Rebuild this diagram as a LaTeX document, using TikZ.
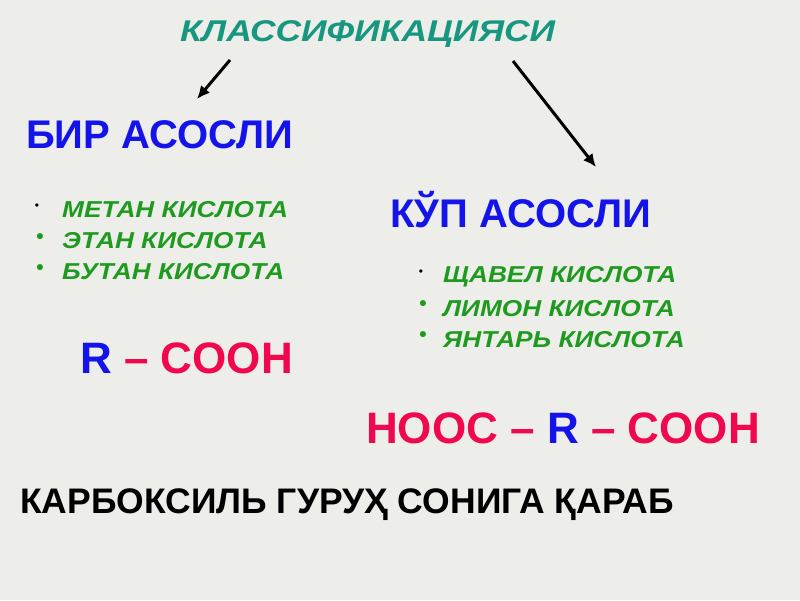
\documentclass[tikz,border=0pt]{standalone}
\usepackage{fontspec}
\setmainfont{Liberation Sans}
\newfontfamily\widefont[FakeStretch=1.18]{Liberation Sans}
\newfontfamily\acidfont[FakeStretch=1.14]{Liberation Sans}
\usepackage{xcolor}
\usepackage{tikz}
\usetikzlibrary{arrows.meta}

\definecolor{titleteal}{HTML}{17977F}
\definecolor{headblue}{HTML}{1414EA}
\definecolor{acidgreen}{HTML}{1E9A1E}
\definecolor{groupred}{HTML}{F0084E}
\definecolor{slidegrey}{HTML}{EDEDEA}

\begin{document}
\begin{tikzpicture}[x=1pt, y=-1pt,
	title/.style={font=\widefont\fontsize{30}{32}\selectfont\bfseries\itshape, text=titleteal, inner sep=0, anchor=west},
	head/.style={font=\fontsize{40}{42}\selectfont\bfseries, text=headblue, inner sep=0, anchor=west},
	acid/.style={font=\acidfont\fontsize{23}{26}\selectfont\bfseries\itshape, text=acidgreen, inner sep=0, anchor=west},
	dot/.style={font=\fontsize{21}{24}\selectfont\bfseries, text=acidgreen, inner sep=0},
	formula/.style={font=\fontsize{44}{46}\selectfont\bfseries, text=groupred, inner sep=0, anchor=west},
	arr/.style={-{Latex[length=13pt,width=12pt]}, line width=3pt, black}
]
\fill[slidegrey] (0,0) rectangle (800,600);
\useasboundingbox (0,0) rectangle (800,600);

\node[title] (klass) at (180,34) {КЛАССИФИКАЦИЯСИ};

\node[head] (bir) at (26,135) {БИР АСОСЛИ};
\node[head] (kup) at (390,210) {КЎП АСОСЛИ};

\coordinate (a1) at (230,60);
\coordinate (a1end) at (197,99);
\coordinate (a2) at (513,61);
\coordinate (a2end) at (596,167);
\draw[arr] (a1) -- (a1end);
\draw[arr] (a2) -- (a2end);

% bir asosli
\node[dot, text=black, font=\fontsize{12}{14}\selectfont] (b1) at (37,207) {•};
\node[acid] (metan) at (62,210) {МЕТАН КИСЛОТА};
\node[dot] (b2) at (40,239) {•};
\node[acid] (etan) at (62,241) {ЭТАН КИСЛОТА};
\node[dot] (b3) at (40,270) {•};
\node[acid] (butan) at (62,272) {БУТАН КИСЛОТА};

% kup asosli
\node[dot, text=black, font=\fontsize{12}{14}\selectfont] (c1) at (421,273) {•};
\node[acid] (shavel) at (443,277) {ЩАВЕЛ КИСЛОТА};
\node[dot] (c2) at (423,306) {•};
\node[acid] (limon) at (443,309) {ЛИМОН КИСЛОТА};
\node[dot] (c3) at (423,337) {•};
\node[acid] (yantar) at (443,340) {ЯНТАРЬ КИСЛОТА};

\node[formula] (mono) at (80,358) {\textcolor{headblue}{R} – COOH};
\node[formula] (di) at (366,428) {HOOC – \textcolor{headblue}{R} – COOH};

\node[inner sep=0, anchor=west, font=\fontsize{35.5}{38}\selectfont\bfseries] (karb) at (20,505) {КАРБОКСИЛЬ ГУРУҲ СОНИГА ҚАРАБ};
\end{tikzpicture}
\end{document}
